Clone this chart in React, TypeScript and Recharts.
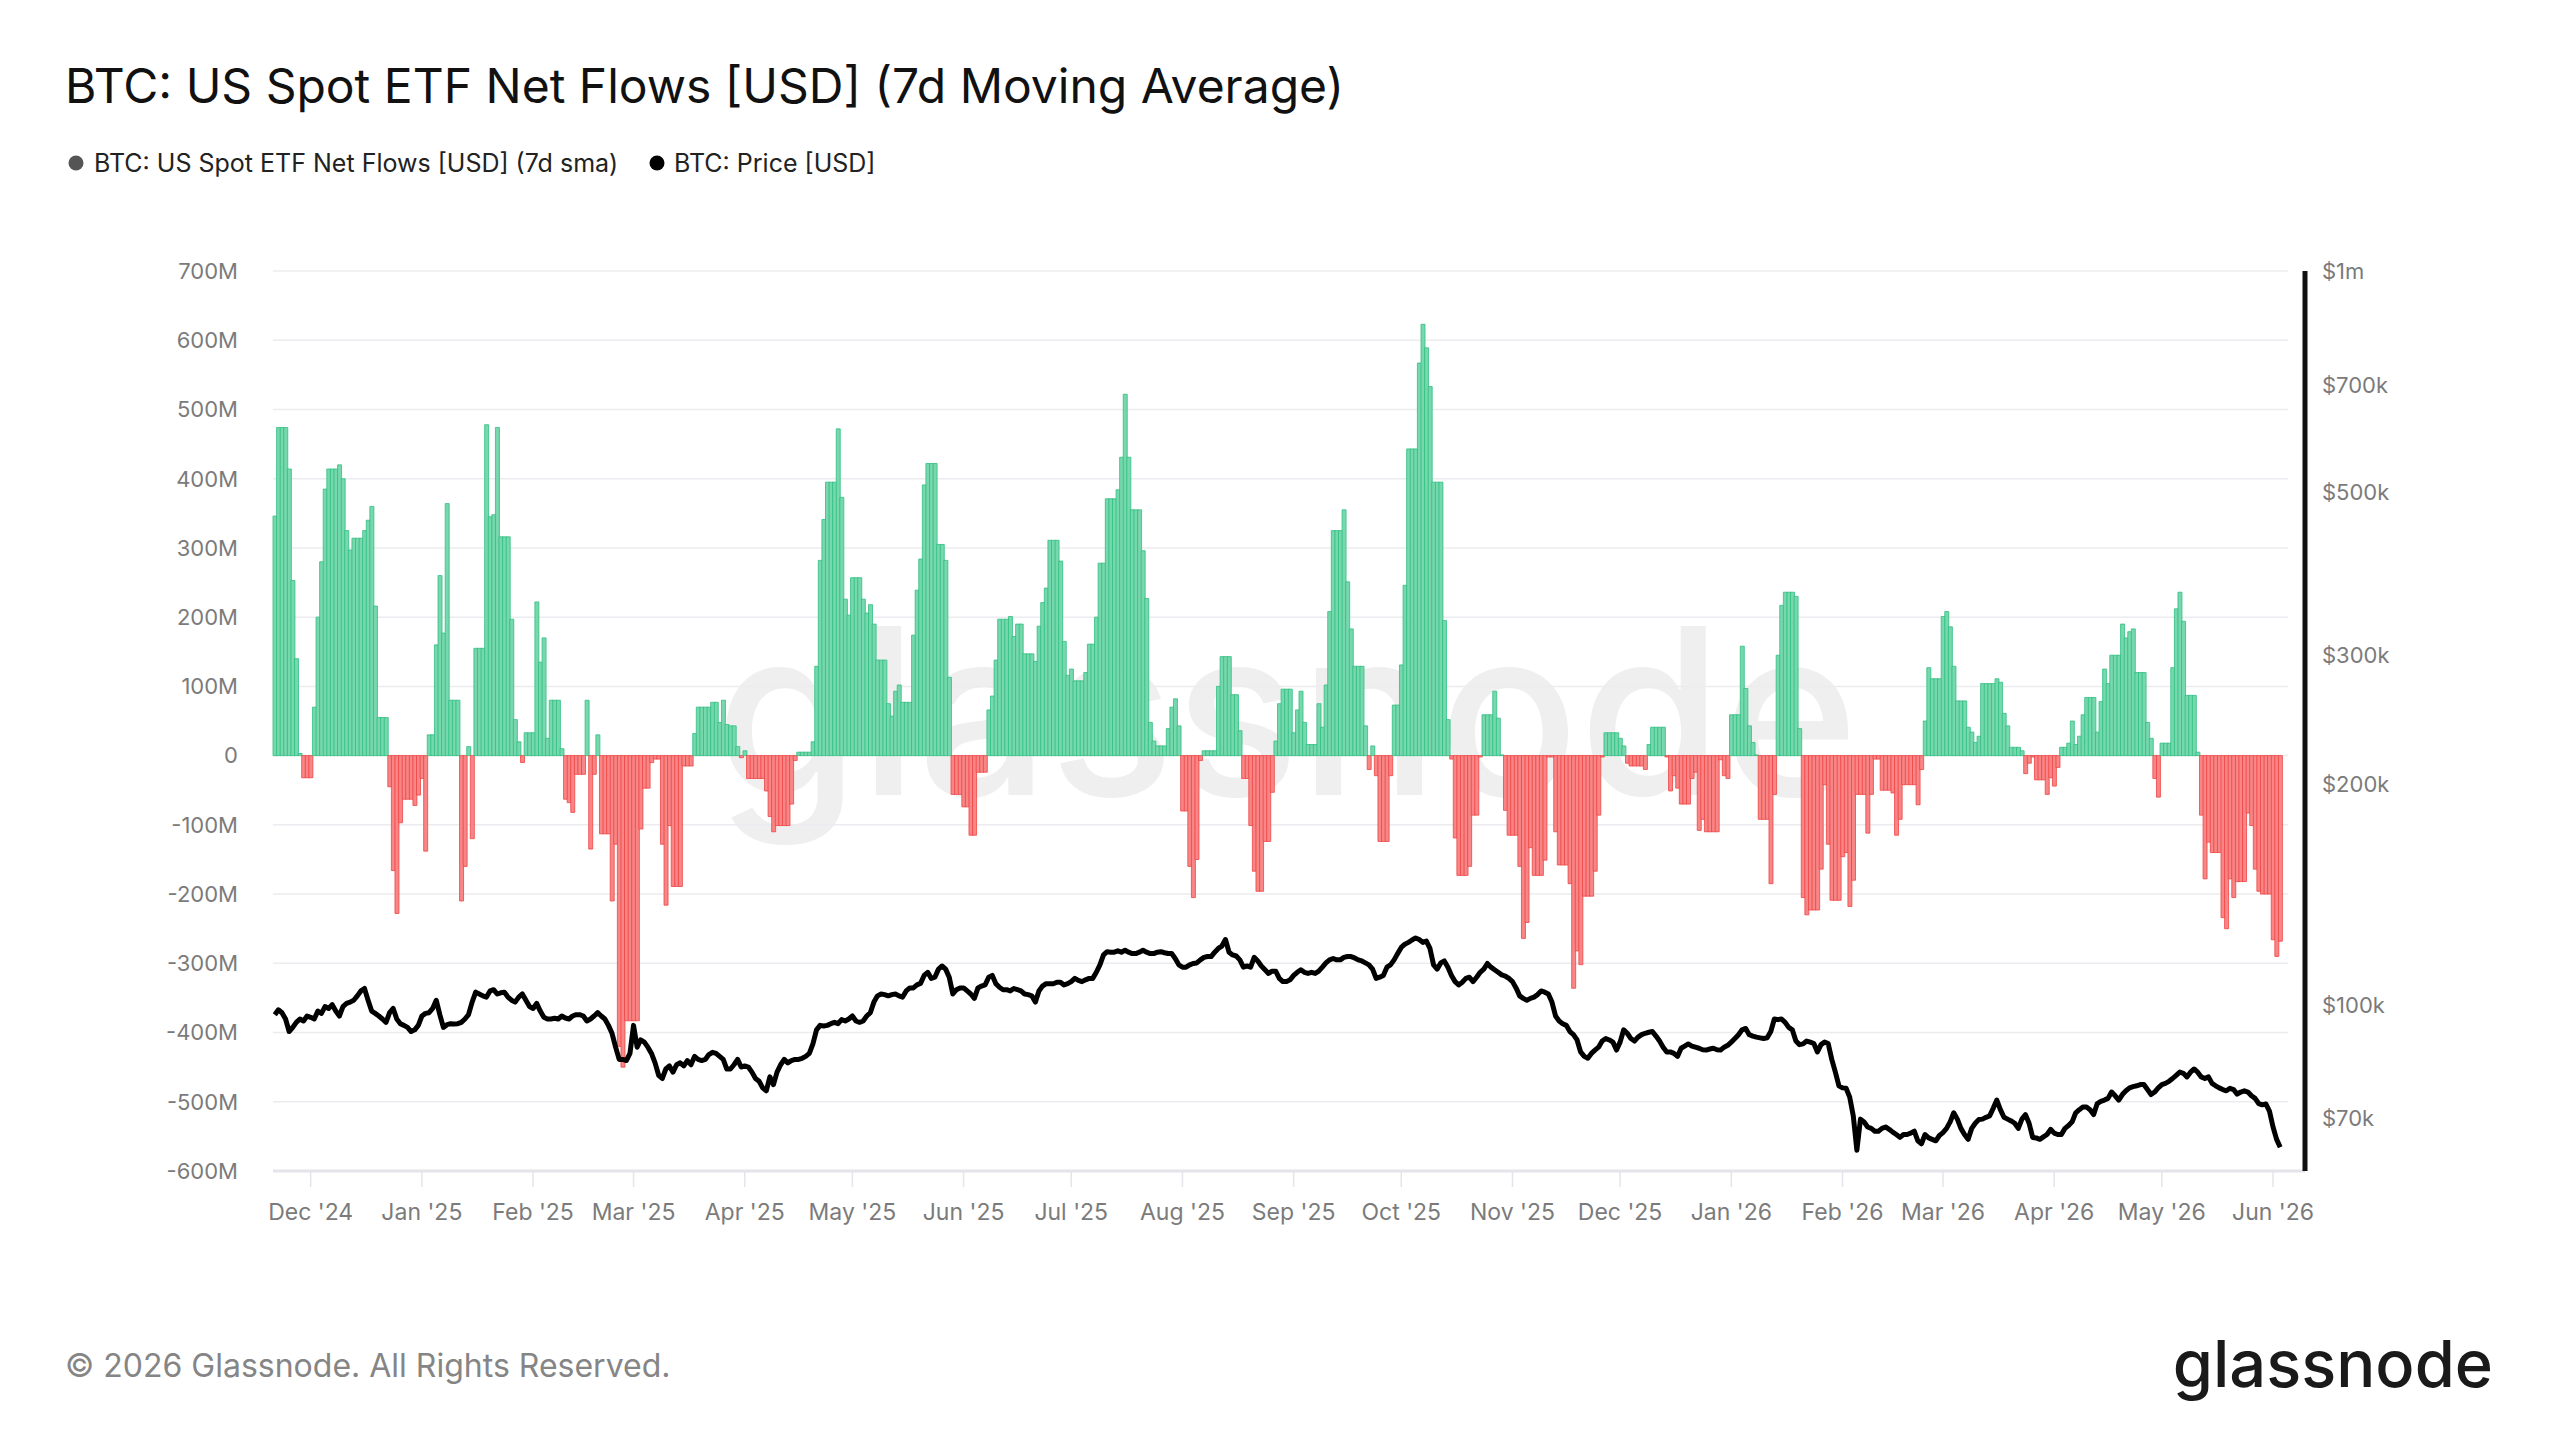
import React from "react";
import {
  ComposedChart,
  Bar,
  Line,
  XAxis,
  YAxis,
  CartesianGrid,
  Cell,
} from "recharts";

// first plotted day: 2024-11-21, one entry per day
const START_UTC = Date.UTC(2024, 10, 21);
const DAY_MS = 86400000;
const MONTH_NAMES = ["Jan", "Feb", "Mar", "Apr", "May", "Jun", "Jul", "Aug", "Sep", "Oct", "Nov", "Dec"];

// US spot ETF net flows, 7d sma, millions USD
const netFlowsM = [
  346, 474, 474, 474, 414, 253, 140, 3, -32, -32,
  -32, 70, 200, 280, 385, 414, 414, 414, 420, 400,
  325, 297, 314, 314, 314, 325, 340, 360, 216, 55,
  55, 55, -45, -166, -228, -97, -63, -63, -63, -72,
  -57, -33, -138, 30, 30, 160, 260, 177, 364, 80,
  80, 80, -210, -160, 13, -120, 155, 155, 155, 478,
  345, 348, 474, 316, 316, 316, 197, 52, 20, -10,
  33, 33, 33, 222, 135, 170, 25, 80, 80, 80,
  10, -63, -68, -82, -27, -27, -27, 80, -135, -27,
  30, -113, -113, -113, -210, -128, -420, -450, -383, -383,
  -383, -383, -106, -47, -47, -10, -5, -5, -128, -216,
  -101, -189, -189, -189, -15, -15, -15, 32, 70, 70,
  70, 70, 77, 77, 48, 80, 45, 43, 43, 13,
  -3, 7, -33, -33, -33, -33, -33, -51, -88, -110,
  -101, -101, -101, -101, -70, -7, 5, 5, 5, 5,
  20, 129, 282, 341, 395, 395, 395, 472, 373, 226,
  203, 257, 257, 257, 226, 206, 218, 190, 138, 138,
  138, 75, 57, 93, 102, 77, 77, 77, 174, 239,
  284, 391, 422, 422, 422, 305, 305, 282, 113, -56,
  -56, -56, -74, -74, -115, -115, -24, -24, -24, 66,
  86, 138, 197, 197, 197, 201, 172, 190, 190, 147,
  147, 147, 136, 187, 221, 242, 311, 311, 311, 281,
  165, 116, 125, 108, 108, 108, 120, 161, 161, 200,
  278, 278, 371, 371, 371, 384, 431, 522, 431, 355,
  355, 355, 296, 227, 48, 21, 14, 14, 14, 39,
  70, 82, 43, -80, -80, -160, -205, -150, -7, 7,
  7, 7, 7, 100, 143, 143, 143, 88, 88, 36,
  -33, -33, -101, -167, -196, -196, -124, -124, -53, 21,
  75, 96, 96, 96, 33, 66, 93, 48, 16, 16,
  16, 75, 41, 102, 208, 325, 325, 325, 355, 251,
  183, 129, 129, 129, 43, -20, 14, -29, -124, -124,
  -124, -29, 73, 73, 131, 246, 443, 443, 443, 567,
  623, 589, 533, 395, 395, 395, 195, 52, -5, -119,
  -173, -173, -173, -160, -86, -86, -2, 59, 59, 59,
  93, 54, 1, -79, -115, -115, -115, -160, -264, -241,
  -133, -173, -173, -173, -151, -2, -2, -110, -158, -158,
  -158, -185, -336, -282, -302, -203, -203, -203, -167, -86,
  -2, 33, 33, 33, 33, 25, 14, -11, -15, -15,
  -15, -15, -20, 16, 41, 41, 41, 41, -2, -51,
  -29, -47, -70, -70, -70, -33, -24, -108, -92, -110,
  -110, -110, -110, -6, -29, -33, 59, 59, 59, 158,
  97, 43, 19, 1, -92, -92, -92, -185, -56, 145,
  217, 236, 236, 236, 230, 39, -205, -230, -223, -223,
  -223, -164, -42, -128, -209, -209, -209, -146, -140, -218,
  -180, -56, -56, -56, -112, -56, -5, -5, -50, -50,
  -50, -54, -115, -92, -42, -42, -42, -42, -71, -20,
  50, 127, 111, 111, 111, 201, 208, 186, 129, 79,
  79, 79, 41, 34, 19, 28, 104, 104, 104, 104,
  111, 106, 61, 43, 12, 12, 12, 7, -26, -11,
  -2, -35, -35, -35, -56, -32, -44, -17, 12, 12,
  18, 50, 16, 28, 59, 84, 84, 84, 34, 78,
  125, 104, 145, 145, 145, 190, 170, 179, 183, 120,
  120, 120, 48, 25, -33, -60, 18, 18, 18, 127,
  212, 236, 194, 87, 87, 87, 5, -86, -178, -125,
  -140, -140, -140, -234, -250, -178, -205, -182, -182, -182,
  -83, -101, -164, -196, -200, -200, -200, -266, -290, -268,
];

// BTC close, thousands USD
const priceK = [
  97.0, 98.5, 97.6, 95.7, 92.0, 93.2, 94.7, 95.7, 95.1, 96.6,
  96.2, 95.7, 98.1, 97.4, 99.5, 98.9, 100.1, 98.1, 96.6, 99.5,
  100.5, 100.9, 101.5, 102.9, 104.5, 105.3, 101.5, 98.1, 97.4, 96.6,
  95.7, 94.7, 97.6, 98.9, 95.7, 94.3, 93.8, 93.2, 92.0, 92.5,
  93.8, 96.6, 97.4, 97.6, 98.9, 101.5, 97.0, 93.2, 94.0, 94.3,
  94.2, 94.3, 94.7, 95.7, 97.0, 100.9, 104.1, 103.5, 102.9, 102.5,
  104.5, 104.9, 103.5, 103.9, 104.1, 102.5, 101.5, 100.9, 102.5, 103.5,
  101.5, 99.5, 98.9, 100.5, 98.1, 96.2, 95.7, 95.7, 95.9, 95.7,
  96.6, 96.0, 95.7, 96.6, 97.0, 97.0, 96.6, 95.1, 95.7, 96.6,
  97.6, 96.6, 95.7, 93.8, 91.5, 87.6, 84.3, 84.3, 84.0, 85.9,
  93.8, 87.6, 89.6, 89.0, 87.6, 85.9, 83.4, 80.2, 79.4, 81.8,
  82.6, 81.0, 82.9, 83.4, 82.6, 84.0, 82.9, 85.1, 84.3, 84.0,
  84.3, 85.6, 86.2, 85.9, 85.1, 84.3, 81.8, 81.8, 82.9, 84.3,
  82.3, 82.6, 82.3, 81.0, 79.4, 78.7, 77.1, 76.4, 79.8, 77.9,
  81.0, 82.9, 84.3, 83.4, 84.0, 84.3, 84.3, 84.6, 85.1, 85.9,
  88.5, 92.5, 93.8, 93.6, 93.8, 94.3, 94.7, 94.3, 95.5, 95.1,
  95.7, 96.6, 95.1, 94.7, 95.1, 96.6, 97.6, 100.9, 102.9, 103.5,
  103.3, 102.9, 103.3, 103.5, 102.9, 102.5, 104.5, 105.5, 105.5, 106.5,
  107.0, 109.7, 110.8, 108.7, 109.1, 111.9, 113.0, 111.9, 109.1, 103.5,
  104.9, 105.5, 105.5, 104.5, 103.5, 102.1, 105.5, 106.1, 106.5, 109.1,
  109.7, 106.9, 105.7, 104.9, 104.9, 104.5, 105.3, 104.9, 104.5, 103.5,
  103.3, 102.9, 100.9, 104.5, 106.1, 106.9, 106.9, 106.9, 107.4, 107.4,
  106.5, 106.9, 107.6, 108.7, 108.0, 107.6, 108.2, 108.7, 108.7, 110.8,
  113.4, 117.0, 118.2, 118.0, 118.0, 118.5, 118.0, 118.7, 118.0, 117.5,
  117.5, 118.0, 118.7, 118.0, 117.5, 117.5, 118.0, 118.2, 117.8, 117.5,
  117.5, 115.7, 113.4, 112.6, 112.6, 113.4, 113.9, 114.1, 115.2, 116.1,
  116.4, 116.4, 118.0, 119.4, 120.3, 122.8, 118.0, 117.0, 116.6, 115.2,
  112.6, 113.0, 112.6, 116.1, 114.8, 113.0, 111.7, 110.4, 111.2, 111.2,
  108.7, 107.6, 107.6, 108.2, 109.7, 110.8, 111.7, 110.8, 110.4, 110.8,
  110.4, 111.2, 112.6, 114.1, 115.2, 115.7, 115.2, 115.2, 116.1, 116.4,
  116.4, 115.9, 115.2, 114.8, 114.1, 113.4, 111.9, 108.7, 109.1, 109.7,
  112.6, 113.4, 115.2, 117.5, 119.8, 121.0, 121.7, 122.6, 123.4, 122.8,
  121.7, 122.2, 119.4, 113.4, 111.9, 114.1, 114.8, 112.6, 109.7, 107.6,
  106.5, 107.4, 108.7, 109.1, 107.6, 109.1, 110.8, 111.9, 113.9, 112.6,
  111.7, 110.8, 109.9, 109.5, 108.7, 107.6, 105.5, 102.9, 102.1, 101.5,
  102.1, 102.5, 103.3, 104.5, 104.1, 103.5, 100.9, 96.6, 95.1, 94.3,
  93.8, 92.0, 91.1, 89.6, 86.3, 85.1, 84.6, 85.9, 86.8, 87.6,
  89.3, 90.0, 89.6, 89.0, 86.8, 89.0, 92.5, 91.5, 90.0, 89.3,
  90.4, 91.1, 91.5, 91.8, 92.0, 90.7, 89.3, 87.6, 86.3, 86.3,
  85.9, 85.1, 87.3, 87.9, 88.5, 87.9, 87.6, 87.3, 86.9, 86.8,
  87.1, 87.3, 86.9, 86.8, 87.6, 88.1, 89.0, 90.0, 91.1, 92.5,
  92.9, 91.1, 90.7, 90.4, 90.2, 90.0, 90.2, 92.0, 95.7, 95.5,
  95.7, 94.7, 93.2, 92.5, 89.3, 88.3, 88.5, 89.3, 89.0, 88.6,
  86.3, 88.3, 89.0, 88.6, 84.3, 81.0, 77.6, 77.1, 77.0, 74.9,
  70.6, 63.4, 69.9, 69.3, 68.2, 67.9, 67.3, 67.3, 67.9, 68.2,
  67.7, 67.1, 66.6, 66.0, 66.6, 66.6, 66.9, 67.3, 65.3, 64.7,
  66.6, 65.9, 65.6, 65.3, 66.4, 67.0, 67.9, 69.3, 71.3, 69.9,
  67.9, 66.6, 65.6, 67.9, 69.0, 69.8, 69.9, 70.3, 70.6, 72.3,
  74.2, 72.0, 70.3, 69.9, 69.5, 69.0, 67.9, 69.9, 70.9, 69.0,
  66.0, 65.9, 65.6, 66.1, 66.6, 67.7, 66.9, 66.6, 66.6, 67.9,
  68.5, 69.3, 71.3, 72.0, 72.6, 72.6, 72.0, 70.9, 73.4, 73.9,
  74.2, 74.6, 76.1, 75.2, 74.2, 75.5, 76.4, 77.1, 77.4, 77.6,
  77.9, 77.9, 76.7, 75.5, 76.1, 77.1, 77.9, 78.2, 78.7, 79.4,
  80.2, 81.0, 80.7, 79.8, 81.0, 81.8, 81.0, 79.8, 79.4, 79.8,
  78.2, 77.6, 77.1, 76.7, 76.4, 77.0, 76.7, 75.6, 76.1, 76.4,
  76.1, 75.2, 74.6, 73.4, 73.1, 73.3, 71.7, 68.2, 65.6, 64.0,
];

const flowTicks = [-600, -500, -400, -300, -200, -100, 0, 100, 200, 300, 400, 500, 600, 700];
const priceTicks = [70000, 100000, 200000, 300000, 500000, 700000, 1000000];

const GREEN_FILL = "#77d7ad";
const GREEN_EDGE = "#2fbf82";
const RED_FILL = "#f88686";
const RED_EDGE = "#ef4444";
const AXIS_TEXT = "#7b7b7b";
const FONT = "Inter, 'Noto Sans', sans-serif";

const data = netFlowsM.map((flow, i) => ({ day: i, flow, price: priceK[i] * 1000 }));

const dateOf = (day: number) => new Date(START_UTC + day * DAY_MS);
const monthStarts = data.filter((d) => dateOf(d.day).getUTCDate() === 1).map((d) => d.day);
const monthLabel = (day: number) => {
  const dt = dateOf(day);
  return `${MONTH_NAMES[dt.getUTCMonth()]} '${String(dt.getUTCFullYear()).slice(2)}`;
};
const flowLabel = (v: number) => (v === 0 ? "0" : `${v}M`);
const priceLabel = (v: number) => (v >= 1000000 ? "$1m" : `$${Math.round(v / 1000)}k`);

// grid stops short of the price axis line
const GridLine = (props: any) => (
  <line
    key={props.key}
    x1={props.x1}
    y1={props.y1}
    x2={props.x2 - 17}
    y2={props.y2}
    stroke="#ececf0"
    strokeWidth={1.5}
  />
);

export default function App() {
  return (
    <div
      style={{
        position: "absolute",
        left: 0,
        top: 0,
        width: 2560,
        height: 1440,
        background: "#fff",
        overflow: "hidden",
        fontFamily: FONT,
      }}
    >
      <svg width={2560} height={1440} style={{ position: "absolute", left: 0, top: 0 }}>
        <text x={65} y={103} fontSize={48} fill="#111" fontFamily={FONT}>
          BTC: US Spot ETF Net Flows [USD] (7d Moving Average)
        </text>
        <circle cx={76} cy={163} r={7.5} fill="#555" />
        <text x={94} y={172} fontSize={25} fill="#222" fontFamily={FONT}>
          BTC: US Spot ETF Net Flows [USD] (7d sma)
        </text>
        <circle cx={657} cy={163} r={7.5} fill="#000" />
        <text x={674} y={172} fontSize={25} fill="#222" fontFamily={FONT}>
          BTC: Price [USD]
        </text>
        <text x={1287} y={795} fontSize={232} fontWeight={500} fill="#efefef" textAnchor="middle" fontFamily={FONT}>
          glassnode
        </text>
        <text x={65} y={1377} fontSize={32} fill="#858585" fontFamily={FONT}>
          © 2026 Glassnode. All Rights Reserved.
        </text>
        <text x={2493} y={1387} fontSize={65} fontWeight={500} fill="#1a1a1a" textAnchor="end" fontFamily={FONT}>
          glassnode
        </text>
      </svg>
      <div style={{ position: "absolute", left: 0, top: 0 }}>
        <ComposedChart
          width={2560}
          height={1440}
          data={data}
          margin={{ top: 271, right: 135, bottom: 209, left: 153 }}
          barCategoryGap={0}
          barGap={0}
          style={{ fontFamily: FONT }}
        >
          <CartesianGrid yAxisId="flows" vertical={false} horizontal={GridLine} />
          <XAxis
            dataKey="day"
            type="category"
            ticks={monthStarts}
            interval={0}
            tickFormatter={monthLabel}
            padding={{ left: 0, right: 23 }}
            axisLine={{ stroke: "#e4e4ea", strokeWidth: 3 }}
            tickLine={{ stroke: "#e4e4ea", strokeWidth: 1.5 }}
            tickSize={16}
            tickMargin={17}
            tick={{ fill: AXIS_TEXT, fontSize: 23 }}
            height={60}
          />
          <YAxis
            yAxisId="flows"
            type="number"
            domain={[-600, 700]}
            ticks={flowTicks}
            allowDataOverflow
            width={120}
            axisLine={false}
            tickLine={false}
            tickSize={0}
            tickMargin={35}
            tickFormatter={flowLabel}
            tick={{ fill: AXIS_TEXT, fontSize: 22 }}
          />
          <YAxis
            yAxisId="price"
            orientation="right"
            type="number"
            scale="log"
            domain={[59400, 1000000]}
            ticks={priceTicks}
            allowDataOverflow
            width={120}
            axisLine={{ stroke: "#111", strokeWidth: 5 }}
            tickLine={false}
            tickSize={0}
            tickMargin={17}
            tickFormatter={priceLabel}
            tick={{ fill: AXIS_TEXT, fontSize: 22 }}
          />
          <Bar yAxisId="flows" dataKey="flow" isAnimationActive={false}>
            {data.map((d) => (
              <Cell
                key={d.day}
                fill={d.flow >= 0 ? GREEN_FILL : RED_FILL}
                stroke={d.flow >= 0 ? GREEN_EDGE : RED_EDGE}
                strokeWidth={0.8}
              />
            ))}
          </Bar>
          <Line
            yAxisId="price"
            dataKey="price"
            type="linear"
            stroke="#000"
            strokeWidth={5}
            strokeLinejoin="round"
            dot={false}
            activeDot={false}
            isAnimationActive={false}
          />
        </ComposedChart>
      </div>
    </div>
  );
}
